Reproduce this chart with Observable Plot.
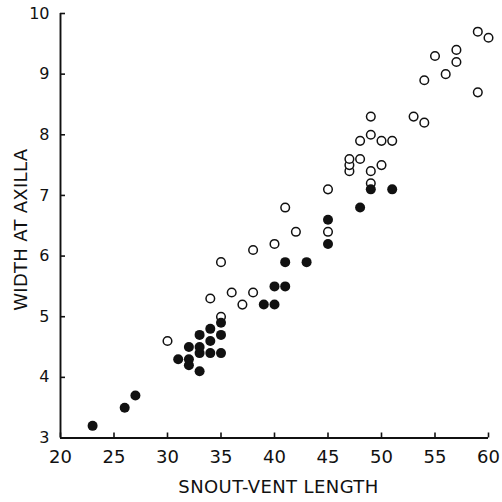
<!DOCTYPE html>
<html><head><meta charset="utf-8">
<script src="https://cdn.jsdelivr.net/npm/d3@7"></script>
<script src="https://cdn.jsdelivr.net/npm/@observablehq/plot@0.6"></script>
<style>body{margin:0;background:#fff}</style>
</head><body><div id="chart"></div>
<script>
// Filled circles
const filledX = [23,26,27,31,32,32,32,33,33,33,33,34,34,34,35,35,35,39,40,40,41,41,43,45,45,48,49,51];
const filledY = [3.2,3.5,3.7,4.3,4.2,4.3,4.5,4.1,4.4,4.5,4.7,4.4,4.6,4.8,4.4,4.7,4.9,5.2,5.2,5.5,5.5,5.9,5.9,6.2,6.6,6.8,7.1,7.1];
// Open circles
const openX = [30,34,35,35,36,37,38,38,40,41,42,45,45,47,47,47,48,48,49,49,49,49,50,50,51,53,54,54,55,56,57,57,59,59,60];
const openY = [4.6,5.3,5.0,5.9,5.4,5.2,5.4,6.1,6.2,6.8,6.4,6.4,7.1,7.4,7.5,7.6,7.6,7.9,7.2,7.4,8.0,8.3,7.5,7.9,7.9,8.3,8.2,8.9,9.3,9.0,9.2,9.4,8.7,9.7,9.6];
const xTicks = [20,25,30,35,40,45,50,55,60];
const yTicks = [3,4,5,6,7,8,9,10];
const xTitle = "SNOUT-VENT LENGTH";
const yTitle = "WIDTH AT AXILLA";

const filled = filledX.map((x, i) => ({x, y: filledY[i]}));
const open = openX.map((x, i) => ({x, y: openY[i]}));

const chart = Plot.plot({
  width: 502, height: 502,
  marginLeft: 60, marginRight: 14, marginTop: 13, marginBottom: 64.5,
  x: {domain: [xTicks[0], xTicks[xTicks.length-1]]},
  y: {domain: [yTicks[0], yTicks[yTicks.length-1]]},
  style: {fontFamily: "DejaVu Sans", background: "#fff", color: "#111"},
  marks: [
    Plot.axisX({ticks: xTicks, tickSize: 5, dy: -5, text: null, label: null, strokeWidth: 1.6}),
    Plot.axisY({ticks: yTicks, tickSize: 5, dx: 5, text: null, label: null, strokeWidth: 1.6}),
    Plot.axisX({ticks: xTicks, tickSize: 0, tickPadding: 12, fontSize: 18, label: null, tickFormat: d3.format("d")}),
    Plot.axisY({ticks: yTicks, tickSize: 0, tickPadding: 11, fontSize: 16, label: null, tickFormat: d3.format("d")}),
    Plot.ruleX([xTicks[0]], {y1: yTicks[0], y2: yTicks[yTicks.length-1], strokeWidth: 1.9, stroke: "#111"}),
    Plot.ruleY([yTicks[0]], {x1: xTicks[0], x2: xTicks[xTicks.length-1], strokeWidth: 1.9, stroke: "#111"}),
    Plot.dot(open, {x: "x", y: "y", r: 4.3, stroke: "#111", strokeWidth: 1.5, fill: "white"}),
    Plot.dot(filled, {x: "x", y: "y", r: 5, fill: "#111", stroke: "none"}),
    Plot.text([xTitle], {frameAnchor: "bottom", text: d => d, dy: 49, dx: 4, fontSize: 18, lineAnchor: "middle", textAnchor: "middle", fill: "#111"}),
    Plot.text([yTitle], {frameAnchor: "left", text: d => d, rotate: -90, dx: -39, dy: 4, fontSize: 18, lineAnchor: "middle", textAnchor: "middle", fill: "#111"})
  ]
});
d3.select(chart).selectAll("text").filter(function(){ return this.textContent === xTitle; }).attr("letter-spacing", 0.4);
d3.select(chart).selectAll("text").filter(function(){ return this.textContent === yTitle; }).attr("letter-spacing", 0.3);
document.getElementById("chart").appendChild(chart);
</script>
</body></html>
